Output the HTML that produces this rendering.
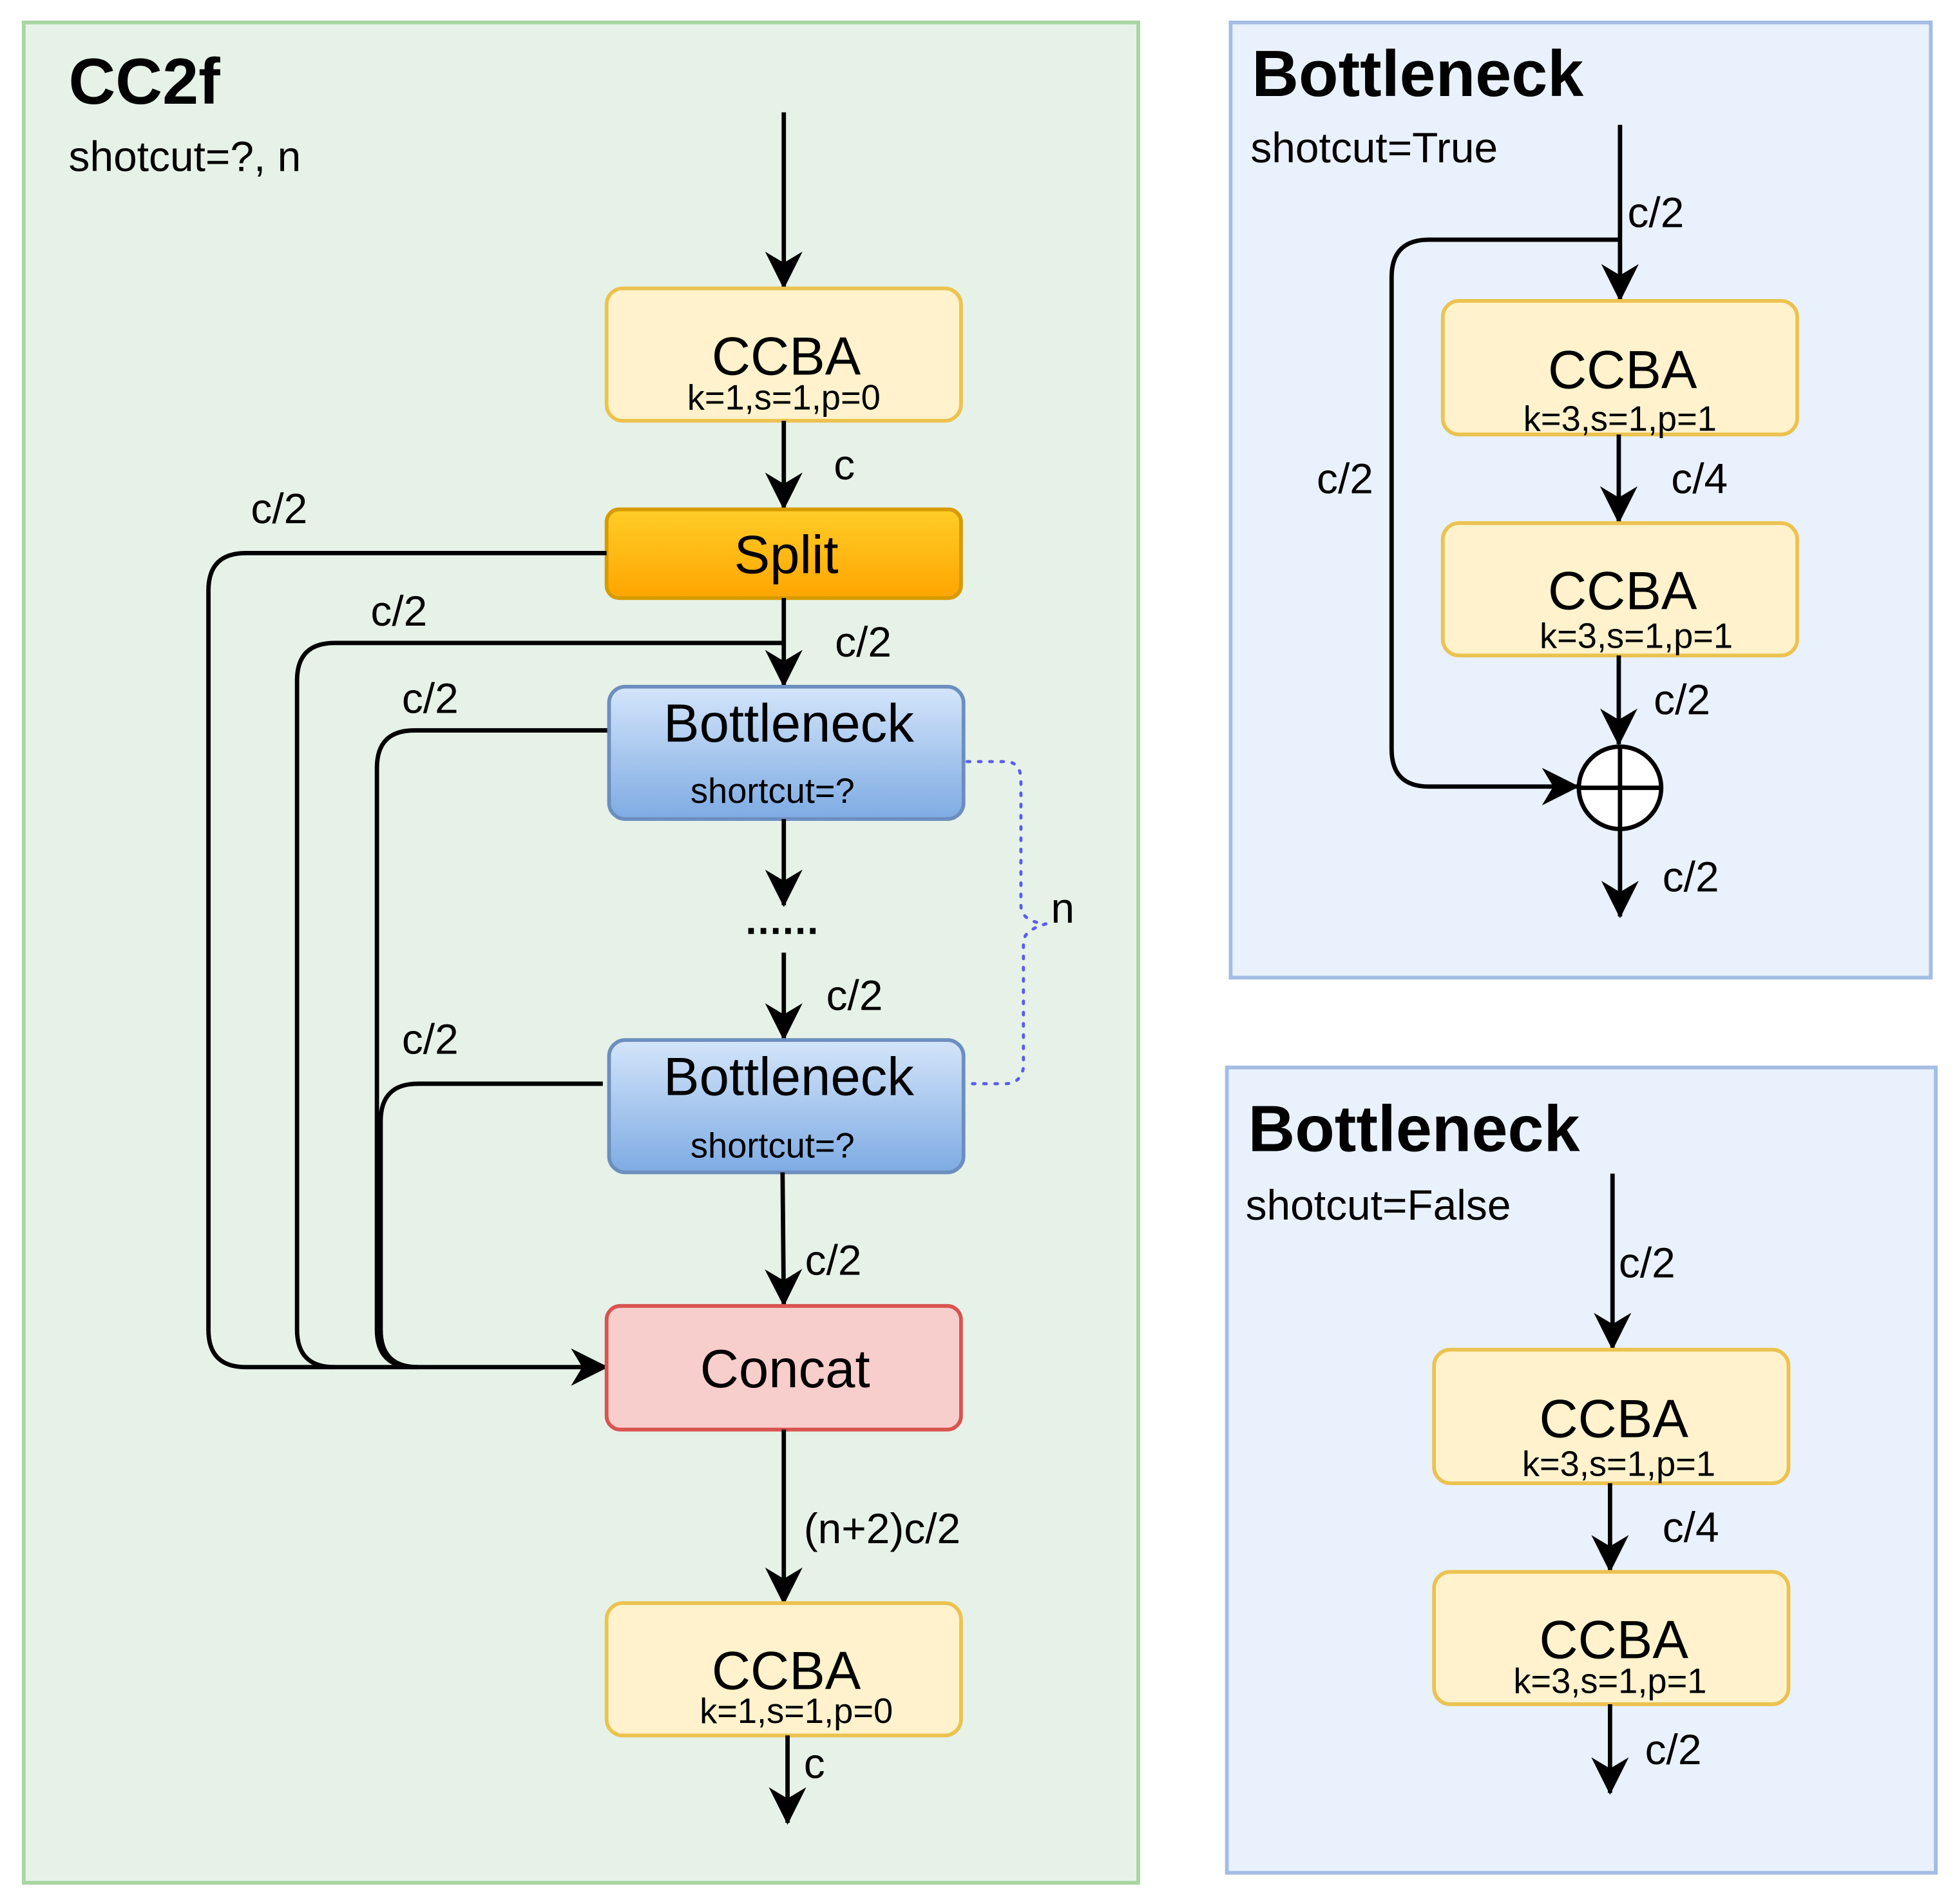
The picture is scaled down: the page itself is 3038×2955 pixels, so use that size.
<!DOCTYPE html>
<html><head><meta charset="utf-8">
<style>
html,body{margin:0;padding:0;background:#fff;}
svg{display:block;}
text{font-family:"Liberation Sans",Arial,sans-serif;fill:#000;}
</style></head>
<body>
<svg width="3038" height="2955" viewBox="0 0 1568 1525" preserveAspectRatio="none" xmlns="http://www.w3.org/2000/svg">
<defs>
<marker id="ah" viewBox="0 0 20 20" refX="19" refY="10" markerWidth="34" markerHeight="30" markerUnits="userSpaceOnUse" orient="auto">
<path d="M0,0 L20,10 L0,20 L6,10 Z" fill="#000"/>
</marker>
<linearGradient id="gsplit" x1="0" y1="0" x2="0" y2="1"><stop offset="0" stop-color="#ffcd28"/><stop offset="1" stop-color="#ffa500"/></linearGradient>
<linearGradient id="gblue" x1="0" y1="0" x2="0" y2="1"><stop offset="0" stop-color="#d4e5fa"/><stop offset="1" stop-color="#7eabe3"/></linearGradient>
</defs>
<style>
.ln{stroke:#000;stroke-width:3.5;fill:none;}
.ar{stroke:#000;stroke-width:3.5;fill:none;marker-end:url(#ah);}
.ccba{fill:#fff2cc;stroke:#ecc24f;stroke-width:3;}
.big{font-size:43px;text-anchor:middle;}
.k{font-size:28px;text-anchor:middle;}
.lab{font-size:34px;}
</style>

<rect x="19" y="18" width="893" height="1490" fill="#e6f2e7" stroke="#a8d5a2" stroke-width="3"/>
<text x="55" y="83" font-size="52" font-weight="bold">CC2f</text>
<text x="55" y="137" font-size="34">shotcut=?, n</text>

<path class="ar" d="M628,90 V230"/>
<rect class="ccba" x="486" y="231" width="284" height="106" rx="13"/>
<text class="big" x="630" y="300">CCBA</text>
<text class="k" x="628" y="328">k=1,s=1,p=0</text>

<path class="ar" d="M628,337 V407"/>
<text class="lab" x="668" y="384">c</text>

<rect x="486" y="408" width="284" height="71" rx="10" fill="url(#gsplit)" stroke="#d79b00" stroke-width="3"/>
<text class="big" x="630" y="459" font-size="41">Split</text>

<path class="ln" d="M486,443 H197 Q167,443 167,473 V1065 Q167,1095 197,1095 H486" marker-end="url(#ah)"/>
<text class="lab" x="201" y="419">c/2</text>
<path class="ln" d="M628,515 H268 Q238,515 238,545 V1065 Q238,1095 268,1095"/>
<text class="lab" x="297" y="501">c/2</text>
<path class="ln" d="M488,585 H332 Q302,585 302,615 V1065 Q302,1095 332,1095"/>
<text class="lab" x="322" y="571">c/2</text>
<path class="ln" d="M483,868 H335 Q305,868 305,898 V1065 Q305,1095 335,1095"/>
<text class="lab" x="322" y="844">c/2</text>

<path class="ar" d="M628,479 V549"/>
<text class="lab" x="669" y="526">c/2</text>

<rect x="488" y="550" width="284" height="106" rx="13" fill="url(#gblue)" stroke="#6c8ebf" stroke-width="3"/>
<text class="big" x="632" y="594">Bottleneck</text>
<text x="619" y="643" font-size="28" text-anchor="middle">shortcut=?</text>

<path class="ar" d="M628,656 V725"/>
<text x="627" y="748" font-size="32" font-weight="bold" text-anchor="middle" letter-spacing="1">......</text>
<path class="ar" d="M628,763 V832"/>
<text class="lab" x="662" y="809">c/2</text>

<rect x="488" y="833" width="284" height="106" rx="13" fill="url(#gblue)" stroke="#6c8ebf" stroke-width="3"/>
<text class="big" x="632" y="877">Bottleneck</text>
<text x="619" y="927" font-size="28" text-anchor="middle">shortcut=?</text>

<path d="M775,610 H808 Q818,612 818,625 V725 Q818,738 838,740 M838,740 Q820,745 820,755 V855 Q818,868 805,868 H775" fill="none" stroke="#5b5bf0" stroke-width="2.5" stroke-dasharray="2,7" stroke-linecap="round"/>
<text class="lab" x="842" y="739">n</text>

<path class="ar" d="M627,939 L628,1045"/>
<text class="lab" x="645" y="1021">c/2</text>

<rect x="486" y="1046" width="284" height="99" rx="11" fill="#f8cecc" stroke="#d9534f" stroke-width="3"/>
<text class="big" x="629" y="1111">Concat</text>

<path class="ar" d="M628,1145 V1284"/>
<text class="lab" x="644" y="1236">(n+2)c/2</text>

<rect class="ccba" x="486" y="1284" width="284" height="106" rx="13"/>
<text class="big" x="630" y="1353">CCBA</text>
<text class="k" x="638" y="1380">k=1,s=1,p=0</text>
<path class="ar" d="M631,1390 V1460"/>
<text class="lab" x="644" y="1424">c</text>

<rect x="986" y="18" width="561" height="765" fill="#e9f1fc" stroke="#a3bde3" stroke-width="3"/>
<text x="1003" y="77" font-size="52" font-weight="bold">Bottleneck</text>
<text x="1002" y="130" font-size="34">shotcut=True</text>
<path class="ar" d="M1298,100 V240"/>
<text class="lab" x="1304" y="182">c/2</text>
<path class="ln" d="M1298,192 H1145 Q1115,192 1115,222 V600 Q1115,630 1145,630 H1264" marker-end="url(#ah)"/>
<text class="lab" x="1055" y="395">c/2</text>
<rect class="ccba" x="1156" y="241" width="284" height="107" rx="13"/>
<text class="big" x="1300" y="311">CCBA</text>
<text class="k" x="1298" y="345">k=3,s=1,p=1</text>
<path class="ar" d="M1297,348 V418"/>
<text class="lab" x="1339" y="395">c/4</text>
<rect class="ccba" x="1156" y="419" width="284" height="106" rx="13"/>
<text class="big" x="1300" y="488">CCBA</text>
<text class="k" x="1311" y="519">k=3,s=1,p=1</text>
<path class="ar" d="M1297,525 V596"/>
<text class="lab" x="1325" y="572">c/2</text>
<circle cx="1298" cy="631" r="33" fill="#fff" stroke="#000" stroke-width="3.5"/>
<path class="ln" d="M1265,631 H1331 M1298,598 V664"/>
<path class="ar" d="M1298,664 V734"/>
<text class="lab" x="1332" y="714">c/2</text>

<rect x="983" y="855" width="568" height="645" fill="#e9f1fc" stroke="#a3bde3" stroke-width="3"/>
<text x="1000" y="922" font-size="52" font-weight="bold">Bottleneck</text>
<text x="998" y="977" font-size="34">shotcut=False</text>
<path class="ar" d="M1292,940 V1080"/>
<text class="lab" x="1297" y="1023">c/2</text>
<rect class="ccba" x="1149" y="1081" width="284" height="107" rx="13"/>
<text class="big" x="1293" y="1151">CCBA</text>
<text class="k" x="1297" y="1182">k=3,s=1,p=1</text>
<path class="ar" d="M1290,1188 V1258"/>
<text class="lab" x="1332" y="1235">c/4</text>
<rect class="ccba" x="1149" y="1259" width="284" height="106" rx="13"/>
<text class="big" x="1293" y="1328">CCBA</text>
<text class="k" x="1290" y="1356">k=3,s=1,p=1</text>
<path class="ar" d="M1290,1365 V1436"/>
<text class="lab" x="1318" y="1413">c/2</text>
</svg>
</body></html>
